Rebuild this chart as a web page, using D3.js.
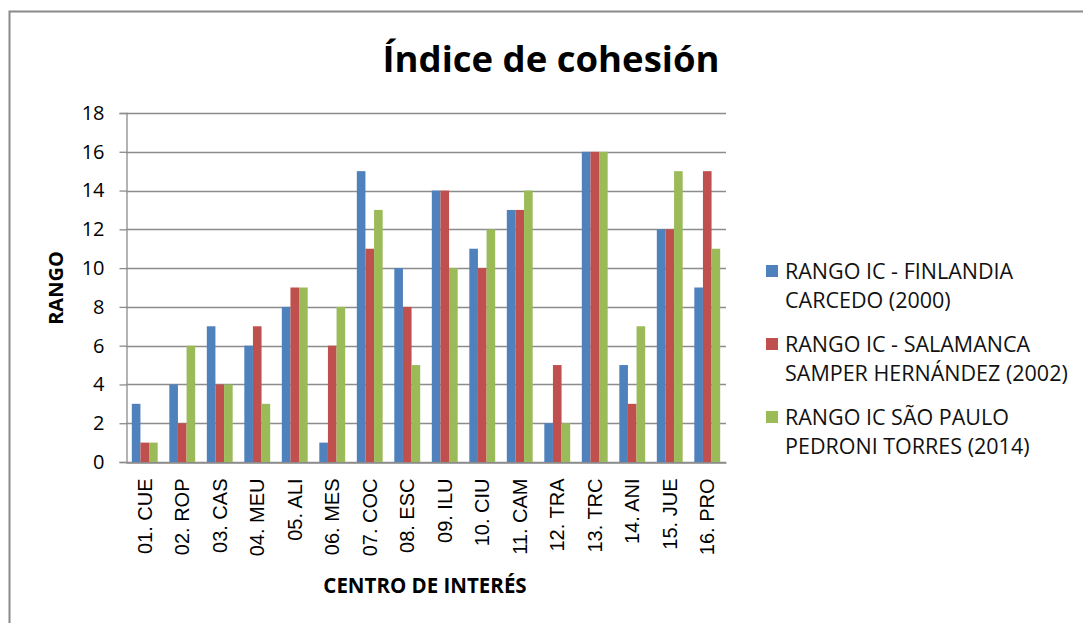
<!DOCTYPE html>
<html>
<head>
<meta charset="utf-8">
<script src="https://cdn.jsdelivr.net/npm/d3@7"></script>
<style>
  body { margin: 0; background: #fff; }
  svg { display: block; }
</style>
</head>
<body>
<div id="chart"></div>
<script>
// Data
const categories = ["01. CUE", "02. ROP", "03. CAS", "04. MEU", "05. ALI", "06. MES", "07. COC", "08. ESC",
  "09. ILU", "10. CIU", "11. CAM", "12. TRA", "13. TRC", "14. ANI", "15. JUE", "16. PRO"];
const finlandia = [3, 4, 7, 6, 8, 1, 15, 10, 14, 11, 13, 2, 16, 5, 12, 9];
const salamanca = [1, 2, 4, 7, 9, 6, 11, 8, 14, 10, 13, 5, 16, 3, 12, 15];
const saoPaulo = [1, 6, 4, 3, 9, 8, 13, 5, 10, 12, 14, 2, 16, 7, 15, 11];
const seriesNames = [
  ["RANGO IC - FINLANDIA", "CARCEDO (2000)"],
  ["RANGO IC - SALAMANCA", "SAMPER HERNÁNDEZ (2002)"],
  ["RANGO IC SÃO PAULO", "PEDRONI TORRES (2014)"]
];
const colors = ["#4F81BD", "#C0504D", "#9BBB59"];
const yTicks = [0, 2, 4, 6, 8, 10, 12, 14, 16, 18];

const W = 1083, H = 623;
const plot = { left: 126, right: 726, top: 113, bottom: 462 };

const svg = d3.select("#chart").append("svg")
  .attr("width", W)
  .attr("height", H);

// outer frame
svg.append("rect")
  .attr("x", 9.5).attr("y", 11.5)
  .attr("width", 1100).attr("height", 700)
  .attr("fill", "#fff")
  .attr("stroke", "#8a8a8a")
  .attr("stroke-width", 2);

const x = d3.scaleBand()
  .domain(categories)
  .range([plot.left, plot.right])
  .paddingInner(0.31)
  .paddingOuter(0.155);

const keys = ["finlandia", "salamanca", "saoPaulo"];
const xs = d3.scaleBand().domain(keys).range([0, x.bandwidth()]);

const y = d3.scaleLinear().domain([0, 18]).range([plot.bottom, plot.top]);

// gridlines
svg.append("g")
  .selectAll("line")
  .data(yTicks)
  .join("line")
  .attr("x1", plot.left).attr("x2", plot.right)
  .attr("y1", d => Math.round(y(d)) + 0.5)
  .attr("y2", d => Math.round(y(d)) + 0.5)
  .attr("stroke", "#8c8c8c")
  .attr("stroke-width", 1.3);

// bars
const rows = categories.map((c, i) => ({
  cat: c,
  finlandia: finlandia[i],
  salamanca: salamanca[i],
  saoPaulo: saoPaulo[i]
}));

svg.append("g")
  .selectAll("g")
  .data(rows)
  .join("g")
  .attr("transform", d => `translate(${x(d.cat)},0)`)
  .selectAll("rect")
  .data(d => keys.map((k, j) => ({ key: k, value: d[k], color: colors[j] })))
  .join("rect")
  .attr("x", d => xs(d.key))
  .attr("width", xs.bandwidth())
  .attr("y", d => y(d.value))
  .attr("height", d => y(0) - y(d.value))
  .attr("fill", d => d.color);

// y axis
const yAxis = svg.append("g")
  .attr("transform", `translate(${plot.left + 0.5},0)`)
  .call(d3.axisLeft(y).tickValues(yTicks).tickSize(7).tickPadding(15));
yAxis.select(".domain").attr("stroke", "#8c8c8c").attr("stroke-width", 1.3);
yAxis.selectAll(".tick line").attr("stroke", "#8c8c8c").attr("stroke-width", 1.3);
yAxis.selectAll("text")
  .attr("font-family", "Open Sans, sans-serif")
  .attr("font-size", 20)
  .attr("fill", "#000");

// x axis
const xAxis = svg.append("g")
  .attr("transform", `translate(0,${Math.round(plot.bottom) + 0.5})`)
  .call(d3.axisBottom(x).tickSize(0).tickPadding(0));
xAxis.select(".domain").attr("stroke", "#8c8c8c").attr("stroke-width", 1.3);
xAxis.selectAll("text")
  .attr("font-family", "Liberation Sans, Arial, sans-serif")
  .attr("font-size", 20)
  .attr("fill", "#000")
  .attr("text-anchor", "end")
  .attr("transform", "rotate(-90)")
  .attr("x", -16)
  .attr("y", 0)
  .attr("dy", "0.36em");

// title
svg.append("text")
  .attr("x", 551).attr("y", 72)
  .attr("text-anchor", "middle")
  .attr("font-family", "Open Sans, sans-serif")
  .attr("font-weight", "bold")
  .attr("font-size", 36.5)
  .attr("fill", "#000")
  .text("Índice de cohesión");

// axis titles
svg.append("text")
  .attr("transform", "translate(63,288) rotate(-90)")
  .attr("text-anchor", "middle")
  .attr("font-family", "Open Sans, sans-serif")
  .attr("font-weight", "bold")
  .attr("font-size", 20)
  .text("RANGO");

svg.append("text")
  .attr("x", 425).attr("y", 593)
  .attr("text-anchor", "middle")
  .attr("font-family", "Open Sans, sans-serif")
  .attr("font-weight", "bold")
  .attr("font-size", 20.5)
  .text("CENTRO DE INTERÉS");

// legend
const legend = svg.append("g")
  .selectAll("g")
  .data(seriesNames)
  .join("g")
  .attr("transform", (d, i) => `translate(766,${271 + i * 73})`);

legend.append("rect")
  .attr("x", 0).attr("y", -6)
  .attr("width", 12).attr("height", 12)
  .attr("fill", (d, i) => colors[i]);

legend.append("text")
  .attr("font-family", "Open Sans, sans-serif")
  .attr("font-size", 21.5)
  .attr("fill", "#111")
  .selectAll("tspan")
  .data(d => d)
  .join("tspan")
  .attr("x", 19)
  .attr("y", (d, i) => i * 29)
  .attr("dy", "0.35em")
  .text(d => d);
</script>
</body>
</html>
